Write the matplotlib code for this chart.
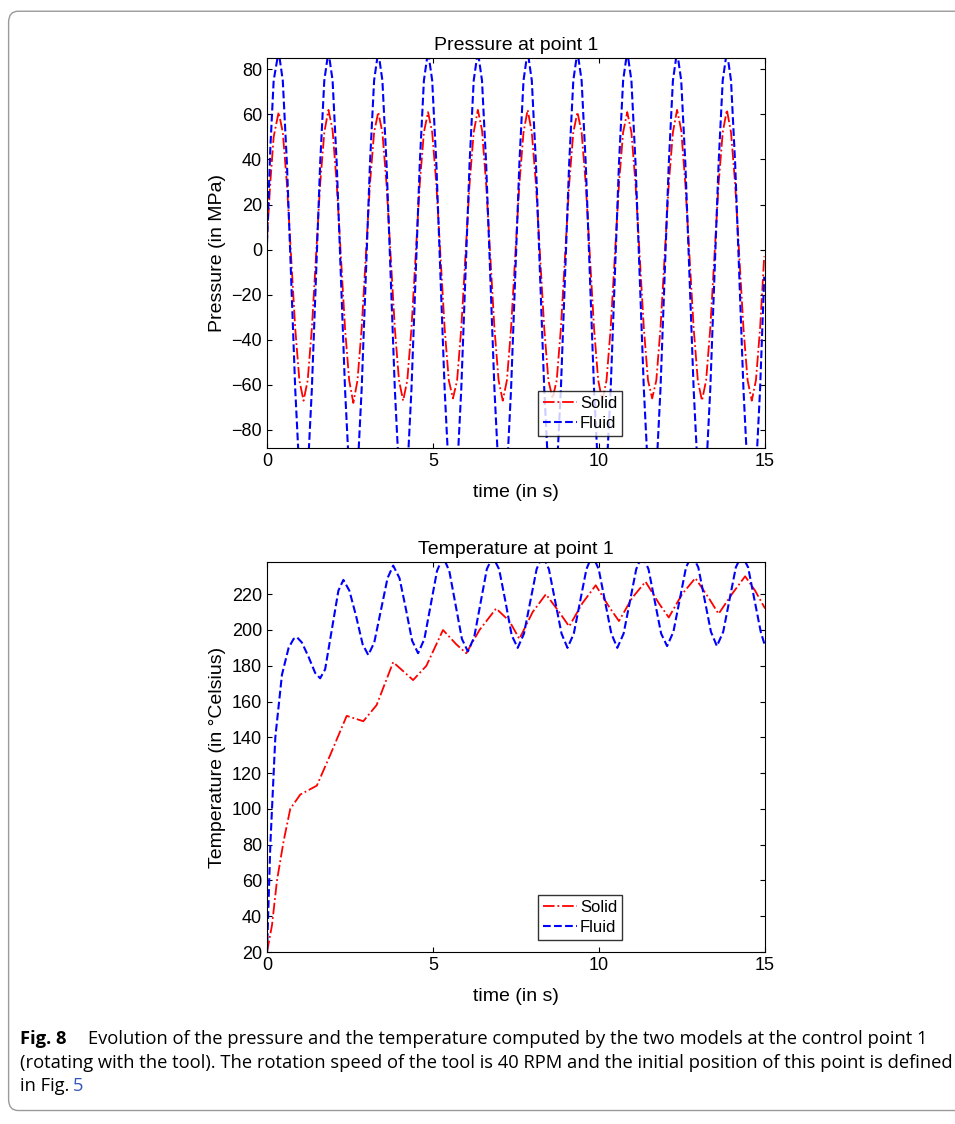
import matplotlib.pyplot as plt
import numpy as np
from matplotlib.patches import FancyBboxPatch

plt.rcParams['font.family'] = ['Liberation Sans', 'DejaVu Sans']

# ---- pressure at point 1 ----
p_t_start = [0.0, 0.1, 0.2]
p_solid_start = [5, 30, 50]
p_fluid_start = [3, 45, 75]
# one row per cycle, samples every 0.125 s starting at the peak (t = 0.35 + 1.5*k)
p_solid_cycles = [
    [61, 52, 29, -3, -35, -58, -67, -58, -35, -3, 29, 52],
    [62, 53, 29, -3, -35, -58, -68, -58, -35, -3, 29, 52],
    [61, 52, 29, -3, -35, -58, -67, -58, -35, -3, 29, 52],
    [61, 52, 29, -3, -35, -58, -66, -58, -35, -3, 29, 52],
    [62, 53, 29, -3, -35, -58, -67, -58, -35, -3, 29, 52],
    [62, 52, 29, -3, -35, -58, -66, -58, -35, -3, 29, 52],
    [61, 52, 29, -3, -35, -58, -67, -58, -35, -3, 29, 52],
    [61, 52, 29, -3, -35, -58, -66, -58, -35, -3, 29, 52],
    [62, 53, 29, -3, -35, -58, -67, -58, -35, -3, 29, 52],
    [62, 52, 29, -3, -35, -58, -67, -58, -35, -3],
]
p_fluid_cycles = [
    [88, 75, 38, -12, -62, -99, -112, -99, -62, -12, 38, 75],
    [88, 75, 38, -12, -62, -99, -112, -99, -62, -12, 38, 75],
    [88, 75, 38, -12, -62, -99, -112, -99, -62, -12, 38, 75],
    [88, 75, 38, -12, -62, -99, -112, -99, -62, -12, 38, 75],
    [88, 75, 38, -12, -62, -99, -112, -99, -62, -12, 38, 75],
    [88, 75, 38, -12, -62, -99, -112, -99, -62, -12, 38, 75],
    [88, 75, 38, -12, -62, -99, -112, -99, -62, -12, 38, 75],
    [88, 75, 38, -12, -62, -99, -112, -99, -62, -12, 38, 75],
    [88, 75, 38, -12, -62, -99, -112, -99, -62, -12, 38, 75],
    [88, 75, 38, -12, -62, -99, -112, -99, -62, -12],
]

# ---- temperature at point 1 ----
ts_time = [0, 0.15, 0.3, 0.5, 0.7, 1.0, 1.5, 1.9, 2.4, 2.9, 3.3, 3.8, 4.4, 4.8, 5.3,
           5.7, 6.0, 6.4, 6.9, 7.3, 7.6, 8.0, 8.4, 8.8, 9.1, 9.5, 9.9, 10.3, 10.6,
           11.0, 11.4, 11.8, 12.1, 12.5, 12.9, 13.3, 13.6, 14.0, 14.4, 14.7, 15.0]
ts_vals = [20, 35, 60, 82, 100, 108, 113, 130, 152, 149, 158, 182, 172, 180, 200,
           192, 187, 200, 212, 205, 195, 210, 220, 210, 202, 215, 225, 213, 205,
           218, 227, 215, 207, 220, 229, 218, 209, 220, 230, 222, 212]
tf_time = [0, 0.1, 0.25, 0.45, 0.65, 0.8, 0.9, 1.05, 1.25, 1.45, 1.6, 1.75, 1.95,
           2.15, 2.3, 2.48, 2.68, 2.88, 3.05, 3.23, 3.43, 3.63, 3.8, 3.99, 4.18,
           4.37, 4.55, 4.74, 4.93, 5.12, 5.3, 5.49, 5.68, 5.87, 6.05, 6.24, 6.43,
           6.62, 6.8, 6.99, 7.18, 7.37, 7.55, 7.74, 7.93, 8.12, 8.3, 8.49, 8.68,
           8.87, 9.05, 9.24, 9.43, 9.62, 9.8, 9.99, 10.18, 10.37, 10.55, 10.74,
           10.93, 11.12, 11.3, 11.49, 11.68, 11.87, 12.05, 12.24, 12.43, 12.62,
           12.8, 12.99, 13.18, 13.37, 13.55, 13.74, 13.93, 14.12, 14.3, 14.49,
           14.68, 14.87, 15.0]
tf_vals = [20, 80, 140, 175, 190, 195, 196, 193, 185, 176, 173, 178, 200,
           222, 228, 222, 208, 192, 186, 193, 211, 229, 236, 229, 212, 194, 187,
           195, 214, 233, 241, 233, 214, 195, 188, 196, 215, 234, 241, 234, 216,
           197, 190, 198, 216, 234, 242, 234, 216, 198, 190, 198, 216, 234, 242,
           234, 216, 198, 190, 198, 216, 234, 242, 234, 216, 198, 191, 199, 217,
           235, 242, 235, 217, 199, 191, 199, 217, 235, 242, 235, 217, 199, 191]

p_time = p_t_start + [0.35 + 0.125 * i for i in range(sum(len(r) for r in p_solid_cycles))]
p_solid = p_solid_start + [v for r in p_solid_cycles for v in r]
p_fluid = p_fluid_start + [v for r in p_fluid_cycles for v in r]

fig = plt.figure(figsize=(9.55, 11.24), dpi=100)
fig.patches.append(FancyBboxPatch((0.009, 0.012), 1.2, 0.978, boxstyle='round,pad=0,rounding_size=0.01',
                                  transform=fig.transFigure, fill=False, ec='#9a9a9a', lw=1))

fs = 14
ax1 = fig.add_axes([0.2796, 0.6014, 0.5215, 0.347])
ax1.plot(p_time, p_solid, 'r-.', lw=1.3, label='Solid')
ax1.plot(p_time, p_fluid, 'b--', lw=1.5, label='Fluid')
ax1.set_xlim(0, 15)
ax1.set_ylim(-88, 85)
ax1.set_xticks([0, 5, 10, 15])
ax1.set_yticks(range(-80, 81, 20))
ax1.set_title('Pressure at point 1', fontsize=fs)
ax1.set_xlabel('time (in s)', fontsize=fs, labelpad=10)
ax1.set_ylabel('Pressure (in MPa)', fontsize=fs)
ax1.legend(loc='lower left', bbox_to_anchor=(0.545, 0.03), fontsize=12, borderaxespad=0,
           fancybox=False, edgecolor='k', handlelength=2, borderpad=0.3, labelspacing=0.3,
           handletextpad=0.2)

ax2 = fig.add_axes([0.2796, 0.153, 0.5215, 0.347])
ax2.plot(ts_time, ts_vals, 'r-.', lw=1.3, label='Solid')
ax2.plot(tf_time, tf_vals, 'b--', lw=1.5, label='Fluid')
ax2.set_xlim(0, 15)
ax2.set_ylim(20, 238)
ax2.set_xticks([0, 5, 10, 15])
ax2.set_yticks(range(20, 221, 20))
ax2.set_title('Temperature at point 1', fontsize=fs)
ax2.set_xlabel('time (in s)', fontsize=fs, labelpad=10)
ax2.set_ylabel('Temperature (in °Celsius)', fontsize=fs)
ax2.legend(loc='lower left', bbox_to_anchor=(0.545, 0.03), fontsize=12, borderaxespad=0,
           fancybox=False, edgecolor='k', handlelength=2, borderpad=0.3, labelspacing=0.3,
           handletextpad=0.2)

for ax in (ax1, ax2):
    ax.tick_params(direction='in', labelsize=13, top=True, right=True)

cap = dict(fontsize=13.2, family='Open Sans')
fig.text(0.021, 0.071, 'Fig. 8', fontweight='bold', **cap)
fig.text(0.092, 0.071, 'Evolution of the pressure and the temperature computed by the two models at the control point 1', **cap)
fig.text(0.021, 0.050, '(rotating with the tool). The rotation speed of the tool is 40 RPM and the initial position of this point is defined', **cap)
fig.text(0.021, 0.029, 'in Fig.', **cap)
fig.text(0.076, 0.029, '5', color='#3355bb', **cap)

fig.savefig('out.png', dpi=100)
